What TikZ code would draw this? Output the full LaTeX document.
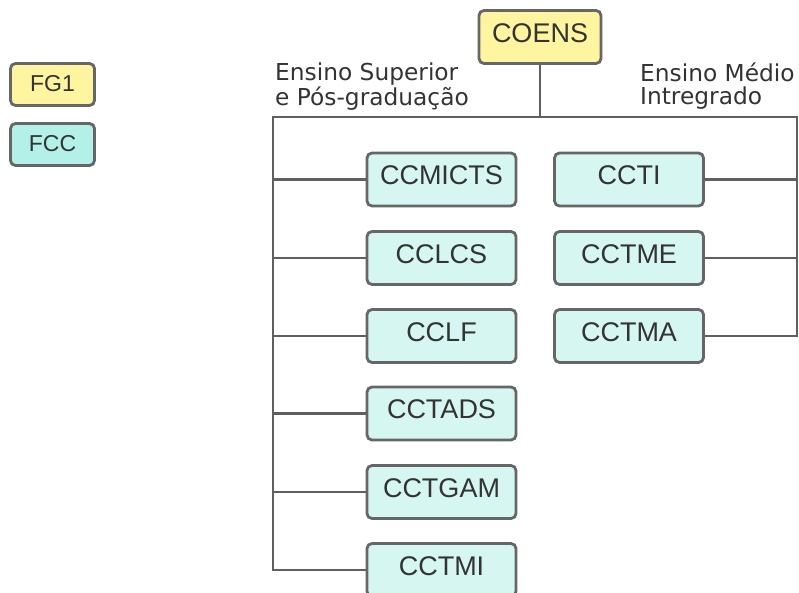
\documentclass[tikz,border=0pt]{standalone}
\usepackage{fontspec}
\setmainfont{Liberation Sans}
\newfontfamily\dejavu{DejaVu Sans}
\definecolor{yfill}{RGB}{255,245,160}
\definecolor{tfill}{RGB}{214,247,241}
\definecolor{tfilldark}{RGB}{179,240,232}
\definecolor{bord}{RGB}{102,102,102}
\definecolor{txt}{RGB}{51,51,51}
\definecolor{lin}{RGB}{95,95,95}
\tikzset{
  box/.style={draw=bord, line width=2.8pt, rounded corners=5pt, text=txt,
    font=\fontsize{27}{27}\selectfont, inner sep=0pt, text depth=8pt},
  unit/.style={box, fill=tfill, minimum width=149pt, minimum height=53pt},
  legend/.style={box, minimum width=84pt, minimum height=42pt,
    font=\fontsize{23}{23}\selectfont, text depth=2pt},
  conn/.style={draw=lin, line width=2.6pt},
  captext/.style={font=\dejavu\fontsize{23.3}{22.5}\selectfont, align=left, anchor=north west,
    inner sep=0pt, text=txt}
}
\begin{document}
\begin{tikzpicture}[x=1pt,y=-1pt]
\useasboundingbox (0,0) rectangle (799,593);
\clip (0,0) rectangle (799,593);
\node[legend, fill=yfill] (fg1) at (52.5,84.5) {FG1};
\node[legend, fill=tfilldark] (fcc) at (52.5,144.5) {FCC};
\node[box, fill=yfill, minimum width=122pt, minimum height=53pt] (coens) at (540,37) {COENS};
\node[captext] (sup) at (275,63) {Ensino Superior\\e Pós-graduação};
\node[captext] (med) at (640,63) {Ensino Médio\\Intregrado};
\coordinate (lb) at (273,117);
\coordinate (rb) at (797,117);
\node[unit] (ccmicts) at (441.5,179.5) {CCMICTS};
\node[unit] (cclcs) at (441.5,258) {CCLCS};
\node[unit] (cclf) at (441.5,336) {CCLF};
\node[unit] (cctads) at (441.5,413.5) {CCTADS};
\node[unit] (cctgam) at (441.5,492) {CCTGAM};
\node[unit] (cctmi) at (441.5,570) {CCTMI};
\node[unit] (ccti) at (629,179.5) {CCTI};
\node[unit] (cctme) at (629,258) {CCTME};
\node[unit] (cctma) at (629,336) {CCTMA};
\draw[conn] (coens.south) |- (lb) |- (cctmi.west);
\draw[conn] (coens.south) |- (rb) |- (cctma.east);
\foreach \n in {ccmicts,cclcs,cclf,cctads,cctgam}
  \draw[conn] (\n.west) -- (\n.west -| lb);
\foreach \n in {ccti,cctme}
  \draw[conn] (\n.east) -- (\n.east -| rb);
\end{tikzpicture}
\end{document}
